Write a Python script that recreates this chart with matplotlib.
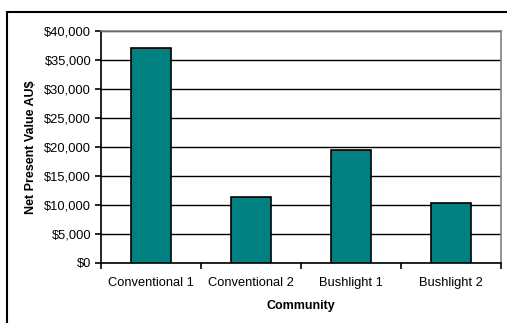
import matplotlib.pyplot as plt
from matplotlib.patches import Rectangle
from matplotlib.ticker import FuncFormatter, MultipleLocator
import numpy as np

# data
communities = ["Conventional 1", "Conventional 2", "Bushlight 1", "Bushlight 2"]
npv = [37000, 11400, 19400, 10400]

plt.rcParams["font.family"] = ["Liberation Sans", "DejaVu Sans"]

W, H = 507, 323
fig = plt.figure(figsize=(W / 100, H / 100), dpi=100)
ax = fig.add_axes([101 / W, 1 - 263 / H, 400 / W, 232 / H])

x = np.arange(len(communities))
ax.bar(x, npv, width=0.4, color="#008080", edgecolor="black", linewidth=1.2, zorder=3)

ax.set_xlim(-0.5, len(communities) - 0.5)
ax.set_ylim(0, 40000)
ax.yaxis.set_major_locator(MultipleLocator(5000))
ax.yaxis.set_major_formatter(FuncFormatter(lambda v, p: f"${v:,.0f}"))
ax.grid(axis="y", color="black", linewidth=1.0, zorder=1)

# category labels centred, ticks at boundaries
ax.set_xticks(x)
ax.set_xticklabels(communities, fontsize=9.3)
ax.tick_params(axis="x", length=0, pad=10)
ax.set_xticks(np.arange(len(communities) + 1) - 0.5, minor=True)
ax.tick_params(axis="x", which="minor", length=4, width=1.2, direction="out")
ax.tick_params(axis="y", length=4, width=1.2, labelsize=9.3, pad=3)

for s in ["left", "bottom"]:
    ax.spines[s].set_color("black")
    ax.spines[s].set_linewidth(1.2)
for s in ["top", "right"]:
    ax.spines[s].set_color("#808080")
    ax.spines[s].set_linewidth(1.2)

ax.set_xlabel("Community", fontsize=9, fontweight="bold", labelpad=8)
ax.set_ylabel("Net Present Value AU$", fontsize=9, fontweight="bold", labelpad=5)

# outer chart border
fig.patches.append(Rectangle((7 / W, -0.1), 1.0, 1.1 - 12 / H, transform=fig.transFigure,
                             fill=False, edgecolor="black", linewidth=1.5))

fig.savefig("out.png", dpi=100)
